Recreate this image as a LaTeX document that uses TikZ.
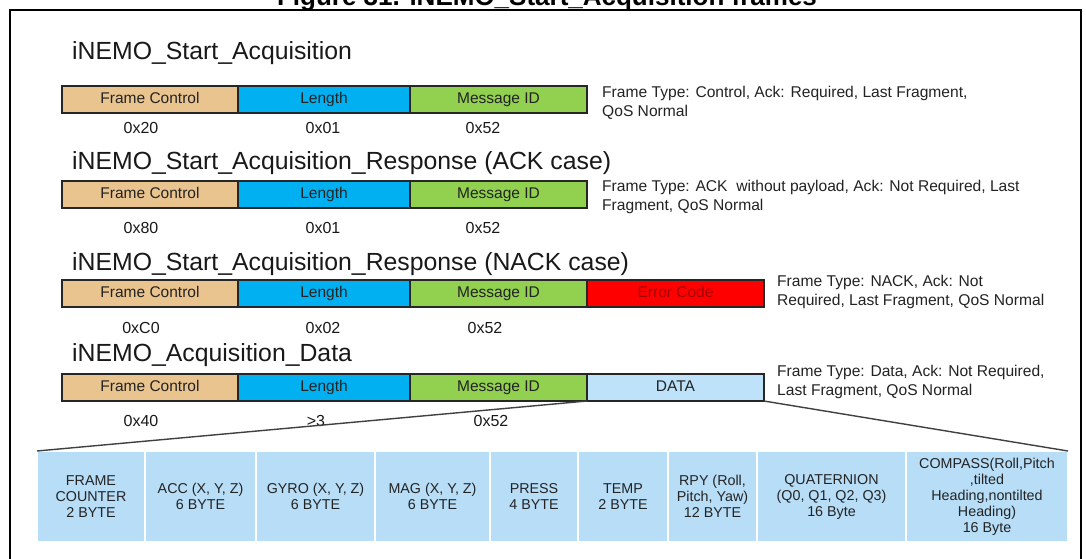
\documentclass[tikz,border=0pt]{standalone}
\usepackage{fontspec}
\setmainfont{Liberation Sans}
\definecolor{fccol}{RGB}{234,196,142}
\definecolor{lencol}{RGB}{0,176,240}
\definecolor{msgcol}{RGB}{146,208,80}
\definecolor{errcol}{RGB}{255,0,0}
\definecolor{errtxt}{RGB}{165,0,0}
\definecolor{datacol}{RGB}{190,226,250}
\definecolor{cellcol}{RGB}{183,221,247}
\definecolor{txtcol}{RGB}{35,35,35}
\begin{document}
\begin{tikzpicture}[x=1pt,y=-1pt,
  seg/.style={draw=black!85, line width=1.2pt, minimum height=27pt, inner sep=0pt, outer sep=0pt,
    text height=11.5pt, text depth=3pt,
    anchor=north west, font=\fontsize{15.5}{17}\selectfont, text=txtcol},
  rowtitle/.style={anchor=base west, inner sep=0pt, font=\fontsize{24.8}{28}\selectfont, text=black!90},
  val/.style={anchor=base, inner sep=0pt, font=\fontsize{16}{18}\selectfont, text=black!90},
  desc/.style={anchor=north west, inner sep=0pt, align=left, font=\fontsize{15.6}{18.5}\selectfont, text=txtcol},
  cell/.style={fill=cellcol, draw=white, line width=2pt, anchor=north west, minimum height=91pt,
    inner sep=0pt, outer sep=0pt, align=center, font=\fontsize{14.3}{16}\selectfont, text=txtcol},
  zoomline/.style={draw=black!75, line width=1.4pt}
]
\useasboundingbox (0,0) rectangle (1086,558);
\fill[white] (0,0) rectangle (1086,558);

% clipped figure caption
\node[anchor=base, inner sep=0pt, font=\fontsize{26}{30}\selectfont\bfseries] (fig) at (547,5.5) {Figure 31. iNEMO\_Start\_Acquisition frames};

% outer frame
\draw[line width=2.6pt] (10,10) rectangle (1081,580);

% ---------- row 1
\node[rowtitle] (t1) at (72,59) {iNEMO\_Start\_Acquisition};
\node[seg, fill=fccol, minimum width=176pt] (r1fc) at (62,86) {Frame Control};
\node[seg, fill=lencol, minimum width=172pt] (r1len) at (238,86) {Length};
\node[seg, fill=msgcol, minimum width=177pt] (r1msg) at (410,86) {Message ID};
\node[val] (v1a) at (141,133) {0x20};
\node[val] (v1b) at (323,133) {0x01};
\node[val] (v1c) at (483,133) {0x52};
\node[desc] (d1) at (602,86) {Frame Type: Control, Ack: Required, Last Fragment,\\QoS Normal};

% ---------- row 2
\node[rowtitle] (t2) at (72,169) {iNEMO\_Start\_Acquisition\_Response (ACK case)};
\node[seg, fill=fccol, minimum width=176pt] (r2fc) at (62,181) {Frame Control};
\node[seg, fill=lencol, minimum width=172pt] (r2len) at (238,181) {Length};
\node[seg, fill=msgcol, minimum width=177pt] (r2msg) at (410,181) {Message ID};
\node[val] (v2a) at (141,233) {0x80};
\node[val] (v2b) at (323,233) {0x01};
\node[val] (v2c) at (483,233) {0x52};
\node[desc] (d2) at (602,180) {Frame Type: ACK\ \ without payload, Ack: Not Required, Last\\Fragment, QoS Normal};

% ---------- row 3
\node[rowtitle] (t3) at (72,270) {iNEMO\_Start\_Acquisition\_Response (NACK case)};
\node[seg, fill=fccol, minimum width=176pt] (r3fc) at (62,280) {Frame Control};
\node[seg, fill=lencol, minimum width=172pt] (r3len) at (238,280) {Length};
\node[seg, fill=msgcol, minimum width=177pt] (r3msg) at (410,280) {Message ID};
\node[seg, fill=errcol, minimum width=177pt, text=errtxt] (r3err) at (587,280) {Error Code};
\node[val] (v3a) at (141,333) {0xC0};
\node[val] (v3b) at (323,333) {0x02};
\node[val] (v3c) at (485,333) {0x52};
\node[desc] (d3) at (777,275) {Frame Type: NACK, Ack: Not\\Required, Last Fragment, QoS Normal};

% ---------- row 4
\node[rowtitle] (t4) at (72,361) {iNEMO\_Acquisition\_Data};
\node[seg, fill=fccol, minimum width=176pt] (r4fc) at (62,374) {Frame Control};
\node[seg, fill=lencol, minimum width=172pt] (r4len) at (238,374) {Length};
\node[seg, fill=msgcol, minimum width=177pt] (r4msg) at (410,374) {Message ID};
\node[seg, fill=datacol, minimum width=177pt] (r4data) at (587,374) {DATA};
\node[val] (v4a) at (141,426) {0x40};
\node[val] (v4b) at (316,426) {>3};
\node[val] (v4c) at (491,426) {0x52};
\node[desc] (d4) at (777,365) {Frame Type: Data, Ack: Not Required,\\Last Fragment, QoS Normal};

% ---------- data breakdown table
\node[cell, minimum width=108pt] (c1) at (37,451) {FRAME\\COUNTER\\2 BYTE};
\node[cell, minimum width=111pt] (c2) at (145,451) {ACC (X, Y, Z)\\6 BYTE};
\node[cell, minimum width=119pt] (c3) at (256,451) {GYRO (X, Y, Z)\\6 BYTE};
\node[cell, minimum width=115pt] (c4) at (375,451) {MAG (X, Y, Z)\\6 BYTE};
\node[cell, minimum width=88pt] (c5) at (490,451) {PRESS\\4 BYTE};
\node[cell, minimum width=90pt] (c6) at (578,451) {TEMP\\2 BYTE};
\node[cell, minimum width=89pt] (c7) at (668,451) {RPY (Roll,\\Pitch, Yaw)\\12 BYTE};
\node[cell, minimum width=149pt] (c8) at (757,451) {QUATERNION\\(Q0, Q1, Q2, Q3)\\16 Byte};
\node[cell, minimum width=162pt] (c9) at (906,451) {COMPASS(Roll,Pitch\\,tilted\\Heading,nontilted\\Heading)\\16 Byte};

% zoom lines
\draw[zoomline] (r4msg.south east) -- (c1.north west);
\draw[zoomline] (r4data.south east) -- (c9.north east);
\end{tikzpicture}
\end{document}
